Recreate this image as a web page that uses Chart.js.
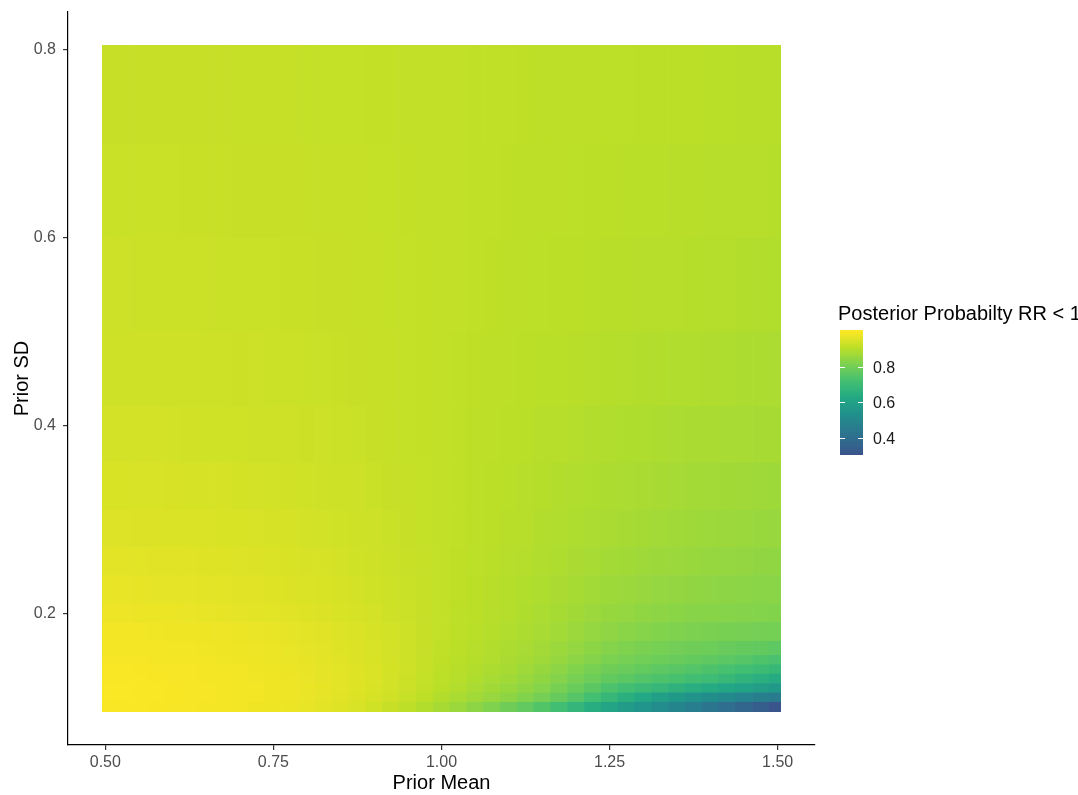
<!DOCTYPE html>
<html>
<head>
<meta charset="utf-8">
<script src="https://cdn.jsdelivr.net/npm/chart.js@4.4.1/dist/chart.umd.min.js"></script>
<style>
  html, body { margin: 0; padding: 0; background: #fff; }
  #wrap { width: 1078px; height: 795px; }
</style>
</head>
<body>
<div id="wrap"><canvas id="heat"></canvas></div>
<script>
// prior mean columns (cell centres) and the outer edges of the grid
const priorMeans = [0.500, 0.525, 0.550, 0.575, 0.600, 0.625, 0.650, 0.675, 0.700, 0.725,
                    0.750, 0.775, 0.800, 0.825, 0.850, 0.875, 0.900, 0.925, 0.950, 0.975,
                    1.000, 1.025, 1.050, 1.075, 1.100, 1.125, 1.150, 1.175, 1.200, 1.225,
                    1.250, 1.275, 1.300, 1.325, 1.350, 1.375, 1.400, 1.425, 1.450, 1.475, 1.500];
const meanRange = [0.495, 1.505];

// prior SD bands, bottom to top
const sdLower = [0.095, 0.105, 0.115, 0.125, 0.135, 0.145, 0.155, 0.17, 0.19, 0.21, 0.24, 0.27, 0.31, 0.36, 0.42, 0.50, 0.60, 0.70];
const sdUpper = [0.105, 0.115, 0.125, 0.135, 0.145, 0.155, 0.17, 0.19, 0.21, 0.24, 0.27, 0.31, 0.36, 0.42, 0.50, 0.60, 0.70, 0.805];

// posterior probability RR < 1, one row per SD band
const probs = [
  [0.995,0.995,0.994,0.993,0.992,0.991,0.989,0.987,0.985,0.982,0.979,0.975,0.970,0.964,0.956,0.947,0.936,0.924,0.910,0.895,0.878,0.860,0.840,0.819,0.795,0.771,0.745,0.714,0.680,0.645,0.610,0.580,0.550,0.520,0.490,0.460,0.430,0.400,0.370,0.340,0.310],
  [0.996,0.996,0.995,0.994,0.993,0.992,0.990,0.988,0.986,0.984,0.981,0.977,0.973,0.968,0.961,0.953,0.944,0.934,0.922,0.909,0.895,0.882,0.868,0.856,0.842,0.825,0.805,0.780,0.750,0.718,0.685,0.655,0.625,0.596,0.568,0.546,0.525,0.506,0.487,0.468,0.450],
  [0.996,0.996,0.995,0.994,0.993,0.992,0.990,0.988,0.986,0.984,0.981,0.978,0.974,0.969,0.963,0.956,0.948,0.939,0.928,0.917,0.905,0.894,0.882,0.870,0.858,0.845,0.830,0.810,0.785,0.760,0.735,0.717,0.700,0.682,0.665,0.650,0.635,0.619,0.603,0.587,0.570],
  [0.995,0.995,0.994,0.993,0.992,0.991,0.989,0.987,0.985,0.983,0.980,0.977,0.973,0.968,0.963,0.957,0.950,0.941,0.931,0.920,0.908,0.899,0.890,0.880,0.870,0.858,0.845,0.828,0.808,0.790,0.772,0.760,0.748,0.738,0.728,0.717,0.705,0.689,0.672,0.654,0.635],
  [0.994,0.994,0.993,0.992,0.991,0.990,0.988,0.986,0.984,0.982,0.979,0.976,0.972,0.967,0.962,0.956,0.950,0.942,0.933,0.922,0.911,0.903,0.895,0.887,0.878,0.867,0.855,0.840,0.825,0.810,0.795,0.785,0.775,0.765,0.755,0.747,0.738,0.727,0.715,0.703,0.690],
  [0.991,0.991,0.990,0.989,0.988,0.987,0.985,0.983,0.981,0.979,0.976,0.973,0.969,0.965,0.960,0.954,0.948,0.940,0.932,0.922,0.912,0.905,0.898,0.891,0.883,0.875,0.866,0.853,0.840,0.828,0.815,0.806,0.798,0.790,0.782,0.775,0.767,0.759,0.750,0.740,0.730],
  [0.989,0.989,0.988,0.987,0.986,0.985,0.983,0.981,0.979,0.977,0.974,0.971,0.967,0.963,0.958,0.953,0.947,0.940,0.932,0.923,0.913,0.907,0.900,0.894,0.887,0.880,0.872,0.861,0.850,0.839,0.828,0.820,0.813,0.806,0.800,0.795,0.790,0.784,0.778,0.772,0.765],
  [0.985,0.985,0.984,0.983,0.982,0.981,0.979,0.977,0.975,0.973,0.970,0.967,0.963,0.959,0.955,0.950,0.945,0.939,0.932,0.924,0.915,0.910,0.904,0.898,0.892,0.886,0.879,0.871,0.862,0.852,0.843,0.836,0.830,0.825,0.820,0.816,0.813,0.810,0.808,0.805,0.803],
  [0.977,0.977,0.976,0.975,0.974,0.973,0.971,0.969,0.967,0.965,0.962,0.959,0.956,0.953,0.949,0.945,0.940,0.935,0.929,0.923,0.916,0.911,0.906,0.901,0.896,0.890,0.884,0.877,0.870,0.862,0.855,0.850,0.845,0.841,0.837,0.834,0.832,0.830,0.828,0.826,0.825],
  [0.970,0.970,0.969,0.968,0.967,0.966,0.964,0.963,0.961,0.959,0.957,0.954,0.951,0.948,0.945,0.941,0.937,0.932,0.927,0.922,0.916,0.912,0.907,0.903,0.898,0.893,0.888,0.883,0.877,0.871,0.865,0.860,0.856,0.852,0.849,0.846,0.843,0.840,0.838,0.836,0.835],
  [0.963,0.963,0.962,0.961,0.960,0.959,0.958,0.957,0.955,0.953,0.951,0.949,0.946,0.943,0.940,0.937,0.933,0.929,0.925,0.921,0.916,0.912,0.908,0.904,0.900,0.896,0.892,0.888,0.883,0.879,0.874,0.870,0.866,0.863,0.860,0.857,0.854,0.851,0.849,0.847,0.845],
  [0.955,0.955,0.954,0.953,0.952,0.951,0.950,0.949,0.948,0.947,0.945,0.943,0.941,0.939,0.936,0.933,0.930,0.927,0.923,0.920,0.916,0.913,0.909,0.906,0.902,0.899,0.895,0.892,0.888,0.885,0.881,0.878,0.875,0.872,0.869,0.867,0.864,0.862,0.860,0.858,0.856],
  [0.948,0.948,0.947,0.947,0.946,0.945,0.944,0.943,0.942,0.941,0.939,0.938,0.936,0.934,0.932,0.930,0.927,0.924,0.921,0.919,0.916,0.913,0.910,0.907,0.904,0.901,0.898,0.895,0.892,0.890,0.887,0.884,0.881,0.878,0.876,0.874,0.872,0.870,0.868,0.866,0.865],
  [0.941,0.941,0.940,0.940,0.939,0.938,0.937,0.937,0.936,0.935,0.934,0.933,0.931,0.930,0.928,0.926,0.924,0.922,0.920,0.918,0.916,0.914,0.911,0.909,0.906,0.904,0.901,0.899,0.897,0.894,0.892,0.890,0.888,0.886,0.884,0.882,0.881,0.880,0.879,0.878,0.878],
  [0.935,0.935,0.934,0.934,0.933,0.933,0.932,0.932,0.931,0.930,0.929,0.928,0.927,0.926,0.925,0.924,0.922,0.921,0.919,0.918,0.916,0.914,0.912,0.911,0.909,0.907,0.905,0.904,0.902,0.900,0.898,0.897,0.895,0.894,0.892,0.891,0.889,0.888,0.887,0.886,0.885],
  [0.930,0.930,0.929,0.929,0.929,0.928,0.928,0.927,0.927,0.926,0.926,0.925,0.925,0.924,0.923,0.922,0.921,0.920,0.919,0.918,0.916,0.915,0.913,0.912,0.911,0.910,0.908,0.907,0.906,0.904,0.903,0.902,0.901,0.900,0.899,0.898,0.897,0.896,0.895,0.894,0.893],
  [0.927,0.927,0.926,0.926,0.926,0.925,0.925,0.925,0.924,0.924,0.923,0.923,0.922,0.922,0.921,0.921,0.920,0.919,0.918,0.917,0.916,0.915,0.914,0.913,0.912,0.911,0.910,0.909,0.908,0.907,0.906,0.905,0.904,0.904,0.903,0.902,0.901,0.901,0.900,0.899,0.898],
  [0.924,0.924,0.924,0.924,0.923,0.923,0.923,0.923,0.922,0.922,0.921,0.921,0.920,0.920,0.919,0.919,0.918,0.918,0.917,0.917,0.916,0.915,0.914,0.914,0.913,0.912,0.911,0.911,0.910,0.909,0.908,0.908,0.907,0.907,0.906,0.906,0.905,0.904,0.903,0.903,0.902]
];

const xTicks = [0.50, 0.75, 1.00, 1.25, 1.50];
const yTicks = [0.2, 0.4, 0.6, 0.8];
const legendTicks = [0.4, 0.6, 0.8];
const legendRange = [0.304, 1.008];
const legendTitle = 'Posterior Probabilty RR < 1';

const FONT = '"Liberation Sans", Arial, sans-serif';
Chart.defaults.font.family = FONT;

// viridis, sampled at 0, 0.1, ... 1
const viridis = ['#440154', '#482576', '#414487', '#35608d', '#2a788e', '#21908c',
                 '#22a884', '#43bf71', '#7ad151', '#bbdf27', '#fde725'];

function hexRgb(h) {
  return [parseInt(h.slice(1, 3), 16), parseInt(h.slice(3, 5), 16), parseInt(h.slice(5, 7), 16)];
}

function fillFor(v) {
  // data range 0.30..1.00 sits on the upper three quarters of viridis
  let t = 0.25 + (v - 0.30) / 0.70 * 0.75;
  t = Math.max(0, Math.min(1, t));
  const pos = t * (viridis.length - 1);
  const i = Math.min(Math.floor(pos), viridis.length - 2);
  const f = pos - i;
  const a = hexRgb(viridis[i]), b = hexRgb(viridis[i + 1]);
  const c = a.map((ch, k) => Math.round(ch + (b[k] - ch) * f));
  return 'rgb(' + c.join(',') + ')';
}

const datasets = probs.map((row, r) => ({
  data: priorMeans.map(m => ({ x: m, y: [sdLower[r], sdUpper[r]] })),
  backgroundColor: row.map(fillFor),
  borderWidth: 0,
  grouped: false,
  barPercentage: 1,
  categoryPercentage: 1
}));

// keep the outer columns inside the grid edges
const clipCells = {
  id: 'clipCells',
  beforeDatasetsDraw(chart) {
    const { ctx, scales: { x } } = chart;
    const l = x.getPixelForValue(meanRange[0]);
    const r = x.getPixelForValue(meanRange[1]);
    ctx.save();
    ctx.beginPath();
    ctx.rect(l, chart.chartArea.top, r - l, chart.chartArea.bottom - chart.chartArea.top);
    ctx.clip();
  },
  afterDatasetsDraw(chart) {
    chart.ctx.restore();
  }
};

// colour bar legend on the right
const colourBar = {
  id: 'colourBar',
  afterDraw(chart) {
    const ctx = chart.ctx;
    const left = 840, width = 23, top = 330, bottom = 455;
    const yFor = v => bottom - (v - legendRange[0]) / (legendRange[1] - legendRange[0]) * (bottom - top);

    ctx.save();
    const grad = ctx.createLinearGradient(0, bottom, 0, top);
    for (let i = 0; i <= 40; i++) {
      const v = legendRange[0] + (legendRange[1] - legendRange[0]) * i / 40;
      grad.addColorStop(i / 40, fillFor(v));
    }
    ctx.fillStyle = grad;
    ctx.fillRect(left, top, width, bottom - top);

    ctx.strokeStyle = '#ffffff';
    ctx.lineWidth = 1;
    ctx.font = '16px ' + FONT;
    ctx.fillStyle = '#1a1a1a';
    ctx.textAlign = 'left';
    ctx.textBaseline = 'middle';
    legendTicks.forEach(v => {
      const y = Math.round(yFor(v)) + 0.5;
      ctx.beginPath();
      ctx.moveTo(left, y); ctx.lineTo(left + 5, y);
      ctx.moveTo(left + width - 5, y); ctx.lineTo(left + width, y);
      ctx.stroke();
      ctx.fillText(v.toFixed(1), 873, y + 1);
    });

    ctx.font = '20px ' + FONT;
    ctx.fillStyle = '#000000';
    ctx.textBaseline = 'alphabetic';
    ctx.fillText(legendTitle, 838, 320);
    ctx.restore();
  }
};

new Chart(document.getElementById('heat'), {
  type: 'bar',
  data: { datasets },
  options: {
    responsive: true,
    maintainAspectRatio: false,
    animation: false,
    layout: { padding: { top: 12, right: 263, left: 0, bottom: 0 } },
    plugins: { legend: { display: false }, tooltip: { enabled: false } },
    scales: {
      x: {
        type: 'linear',
        min: 0.4445,
        max: 1.5555,
        offset: false,
        afterBuildTicks: axis => { axis.ticks = xTicks.map(v => ({ value: v })); },
        afterFit: axis => { axis.height = 50; axis.paddingLeft = 0; axis.paddingRight = 0; },
        grid: { display: true, offset: false, drawOnChartArea: false, drawTicks: true, tickLength: 5, lineWidth: 1.2, color: '#333333' },
        border: { display: true, color: '#000000', width: 1.2 },
        ticks: {
          color: '#4d4d4d',
          font: { size: 16 },
          padding: 3,
          maxRotation: 0,
          autoSkip: false,
          callback: v => Number(v).toFixed(2)
        },
        title: { display: true, text: 'Prior Mean', color: '#000000', font: { size: 20 }, padding: 0 }
      },
      y: {
        type: 'linear',
        min: 0.0595,
        max: 0.8405,
        afterBuildTicks: axis => { axis.ticks = yTicks.map(v => ({ value: v })); },
        afterFit: axis => { axis.width = 68; axis.paddingTop = 0; axis.paddingBottom = 0; },
        grid: { display: true, offset: false, drawOnChartArea: false, drawTicks: true, tickLength: 5, lineWidth: 1.2, color: '#333333' },
        border: { display: true, color: '#000000', width: 1.2 },
        ticks: {
          color: '#4d4d4d',
          font: { size: 16 },
          padding: 7,
          autoSkip: false,
          callback: v => Number(v).toFixed(1)
        },
        title: { display: true, text: 'Prior SD', color: '#000000', font: { size: 20 }, padding: { top: 10, bottom: 0 } }
      }
    }
  },
  plugins: [clipCells, colourBar]
});
</script>
</body>
</html>
